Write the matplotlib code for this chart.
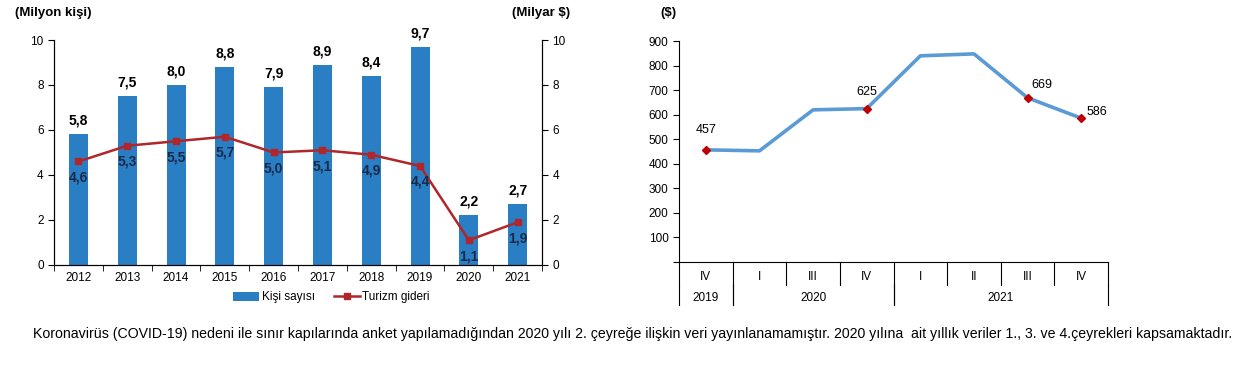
import numpy as np
import matplotlib as mpl
import matplotlib.pyplot as plt
import matplotlib.transforms as mtransforms

plt.rcParams['font.family'] = ['Liberation Sans', 'DejaVu Sans']

# sol grafik: yıllık veriler
years = ['2012', '2013', '2014', '2015', '2016', '2017', '2018', '2019', '2020', '2021']
kisi = [5.8, 7.5, 8.0, 8.8, 7.9, 8.9, 8.4, 9.7, 2.2, 2.7]
gider = [4.6, 5.3, 5.5, 5.7, 5.0, 5.1, 4.9, 4.4, 1.1, 1.9]

# sağ grafik: çeyreklik kişi başı harcama
quarters = ['IV', 'I', 'III', 'IV', 'I', 'II', 'III', 'IV']
q_years = ['2019', '2020', '2020', '2020', '2021', '2021', '2021', '2021']
harcama = [457, 453, 620, 625, 840, 848, 669, 586]
etiketli = [0, 3, 6, 7]

footnote = ('Koronavirüs (COVID-19) nedeni ile sınır kapılarında anket yapılamadığından 2020 yılı 2. çeyreğe ilişkin veri '
            'yayınlanamamıştır. 2020 yılına  ait yıllık veriler 1., 3. ve 4.çeyrekleri kapsamaktadır.')

bar_color = '#2A7EC3'
line_color = '#B0262A'
lbl_color = '#1B2A4A'

fig = plt.figure(figsize=(12.51, 3.67), dpi=100)

# ---- sol grafik
ax = fig.add_axes([0.0432, 0.278, 0.3901, 0.613])
x = np.arange(len(years))
ax.bar(x, kisi, width=0.39, color=bar_color, label='Kişi sayısı', zorder=2)
ax.set_xlim(-0.5, len(years) - 0.5)
ax.set_ylim(0, 10)
ax.set_yticks(range(0, 11, 2))
ax.set_xticks(x)
ax.set_xticklabels(years)
ax.set_xticks(np.arange(-0.5, len(years)), minor=True)
ax.tick_params(axis='x', which='major', length=0, labelsize=8.5, pad=5)
ax.tick_params(axis='x', which='minor', length=4, direction='out')
ax.tick_params(axis='y', labelsize=8.5, length=4)
ax.spines['top'].set_visible(False)
for i, v in enumerate(kisi):
    ax.text(i, v + 0.3, f'{v:.1f}'.replace('.', ','), ha='center', va='bottom',
            fontsize=10, fontweight='bold')

ax2 = ax.twinx()
ax2.plot(x, gider, color=line_color, lw=1.8, marker='s', ms=5, label='Turizm gideri', zorder=3)
ax2.set_ylim(0, 10)
ax2.set_yticks(range(0, 11, 2))
ax2.tick_params(axis='y', labelsize=8.5, length=4)
ax2.spines['top'].set_visible(False)
for i, v in enumerate(gider):
    ax2.text(i, v - 0.4, f'{v:.1f}'.replace('.', ','), ha='center', va='top',
             fontsize=10, fontweight='bold', color=lbl_color)

fig.text(0.012, 0.965, '(Milyon kişi)', fontsize=9.5, fontweight='bold', va='center')
fig.text(0.409, 0.965, '(Milyar $)', fontsize=9.5, fontweight='bold', va='center')

h1, l1 = ax.get_legend_handles_labels()
h2, l2 = ax2.get_legend_handles_labels()
fig.legend(h1 + h2, l1 + l2, loc='center', bbox_to_anchor=(0.265, 0.19), ncol=2,
           frameon=False, fontsize=8.5, handlelength=2.2, handleheight=0.8,
           columnspacing=1.6, handletextpad=0.2)

# ---- sağ grafik
bx = fig.add_axes([0.5428, 0.286, 0.3429, 0.602])
xq = np.arange(len(harcama))
bx.plot(xq, harcama, color='#5B9BD5', lw=2.6, zorder=2)
bx.plot(xq[etiketli], np.array(harcama)[etiketli], ls='none', marker='D', ms=4.5,
        color='#C00000', zorder=3)
bx.set_xlim(-0.5, len(harcama) - 0.5)
bx.set_ylim(0, 900)
bx.set_yticks(range(0, 1000, 100))
bx.set_yticklabels([''] + [str(v) for v in range(100, 1000, 100)])
bx.tick_params(axis='y', labelsize=8.5, length=4)
bx.set_xticks([])
for s in ['top', 'right']:
    bx.spines[s].set_visible(False)

offsets = {0: (0, 10, 'center'), 3: (0, 8, 'center'), 6: (3, 5, 'left'), 7: (4, 0, 'left')}
for i in etiketli:
    dx, dy, ha = offsets[i]
    bx.annotate(str(harcama[i]), (xq[i], harcama[i]), xytext=(dx, dy),
                textcoords='offset points', ha=ha, va='bottom', fontsize=9)

# kategori tablosu (çeyrek / yıl)
tr = mtransforms.blended_transform_factory(bx.transData, bx.transAxes)
def yax(px):
    return -px / (bx.get_position().height * fig.get_figheight() * 100)

for i in range(len(quarters)):
    bx.text(xq[i], yax(15), quarters[i], transform=tr, ha='center', va='center', fontsize=8.5)
for b in np.arange(-0.5, len(quarters)):
    bx.plot([b, b], [0, yax(23)], transform=tr, color='black', lw=0.8, clip_on=False)

groups = []
for i, yr in enumerate(q_years):
    if groups and groups[-1][0] == yr:
        groups[-1][2] = i
    else:
        groups.append([yr, i, i])
for yr, a, b in groups:
    bx.text((a + b) / 2, yax(36), yr, transform=tr, ha='center', va='center', fontsize=8.5)
    for edge in (a - 0.5, b + 0.5):
        bx.plot([edge, edge], [yax(23), yax(43)], transform=tr, color='black',
                lw=0.8, clip_on=False)

fig.text(0.528, 0.965, '($)', fontsize=9.5, fontweight='bold', va='center')

fig.text(0.026, 0.09, footnote, fontsize=10.2, va='center')

fig.savefig('out.png', dpi=100)
